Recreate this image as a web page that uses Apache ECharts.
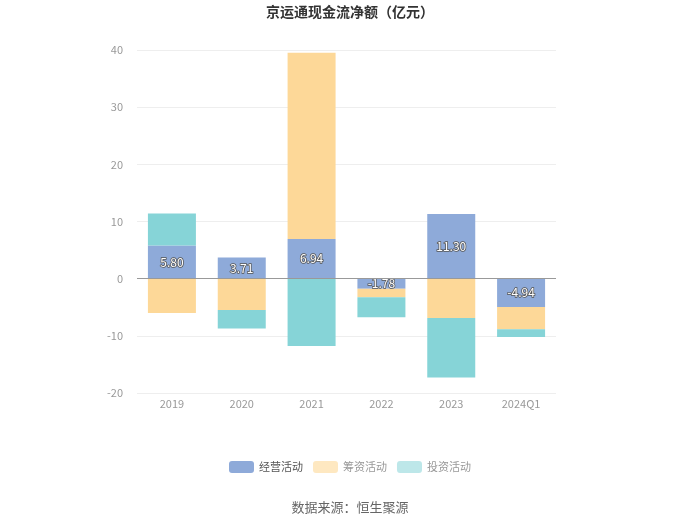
<!DOCTYPE html>
<html>
<head>
<meta charset="utf-8">
<script src="https://cdn.jsdelivr.net/npm/echarts@6/dist/echarts.min.js"></script>
<style>html,body{margin:0;padding:0;background:#fff;}#c{width:700px;height:524px;}</style>
</head>
<body>
<div id="c"></div>
<script>
const categories = ['2019', '2020', '2021', '2022', '2023', '2024Q1'];
const operating = [5.80, 3.71, 6.94, -1.78, 11.30, -4.94];
const financing = [-6.0, -5.5, 32.6, -1.47, -6.9, -3.9];
const investing = [5.6, -3.2, -11.8, -3.5, -10.4, -1.35];
const seriesNames = ['经营活动', '筹资活动', '投资活动'];
const colors = ['#8eaad9', '#fdd898', '#86d4d7'];
const yTicks = { min: -20, max: 40, interval: 10 };

const chart = echarts.init(document.getElementById('c'), null, { renderer: 'canvas' });
const fontFamily = '"Noto Sans CJK SC", "Noto Sans", sans-serif';
chart.setOption({
  animation: false,
  textStyle: { fontFamily: fontFamily },
  title: {
    text: '京运通现金流净额（亿元）',
    left: 'center', top: 0,
    textStyle: { fontSize: 14, fontWeight: 'bold', color: '#333', fontFamily: fontFamily }
  },
  graphic: [{
    type: 'text', left: 'center', top: 501,
    style: { text: '数据来源：恒生聚源', fill: '#666', fontSize: 13, fontFamily: fontFamily }
  }],
  legend: {
    bottom: 46, left: 'center',
    itemWidth: 25, itemHeight: 12, itemGap: 10,
    icon: 'roundRect',
    textStyle: { fontSize: 11, color: '#999', fontFamily: fontFamily },
    data: [
      { name: seriesNames[0], textStyle: { color: '#555' } },
      { name: seriesNames[1], itemStyle: { opacity: 0.6 } },
      { name: seriesNames[2], itemStyle: { opacity: 0.55 } }
    ]
  },
  grid: { left: 137, right: 144, top: 50, bottom: 131 },
  xAxis: {
    type: 'category', data: categories,
    axisLine: { show: false, onZero: false },
    axisTick: { show: false },
    axisLabel: { color: '#999', fontSize: 11, margin: 5 }
  },
  yAxis: {
    type: 'value', min: yTicks.min, max: yTicks.max, interval: yTicks.interval,
    axisLine: { show: false },
    axisTick: { show: false },
    axisLabel: { color: '#999', fontSize: 11, margin: 14 },
    splitLine: { lineStyle: { color: '#eeeeee' } }
  },
  series: [
    {
      name: seriesNames[0], type: 'bar', stack: 'total', data: operating,
      barWidth: 48,
      itemStyle: { color: colors[0] },
      label: {
        show: true, position: 'inside', formatter: p => p.value.toFixed(2),
        color: '#fff', fontSize: 12, textBorderColor: '#555', textBorderWidth: 1.5
      },
      markLine: {
        silent: true, symbol: 'none', label: { show: false },
        lineStyle: { color: '#999', type: 'solid', width: 1 },
        data: [{ yAxis: 0 }]
      }
    },
    { name: seriesNames[1], type: 'bar', stack: 'total', data: financing, barWidth: 48, itemStyle: { color: colors[1] } },
    { name: seriesNames[2], type: 'bar', stack: 'total', data: investing, barWidth: 48, itemStyle: { color: colors[2] } }
  ]
});
</script>
</body>
</html>
